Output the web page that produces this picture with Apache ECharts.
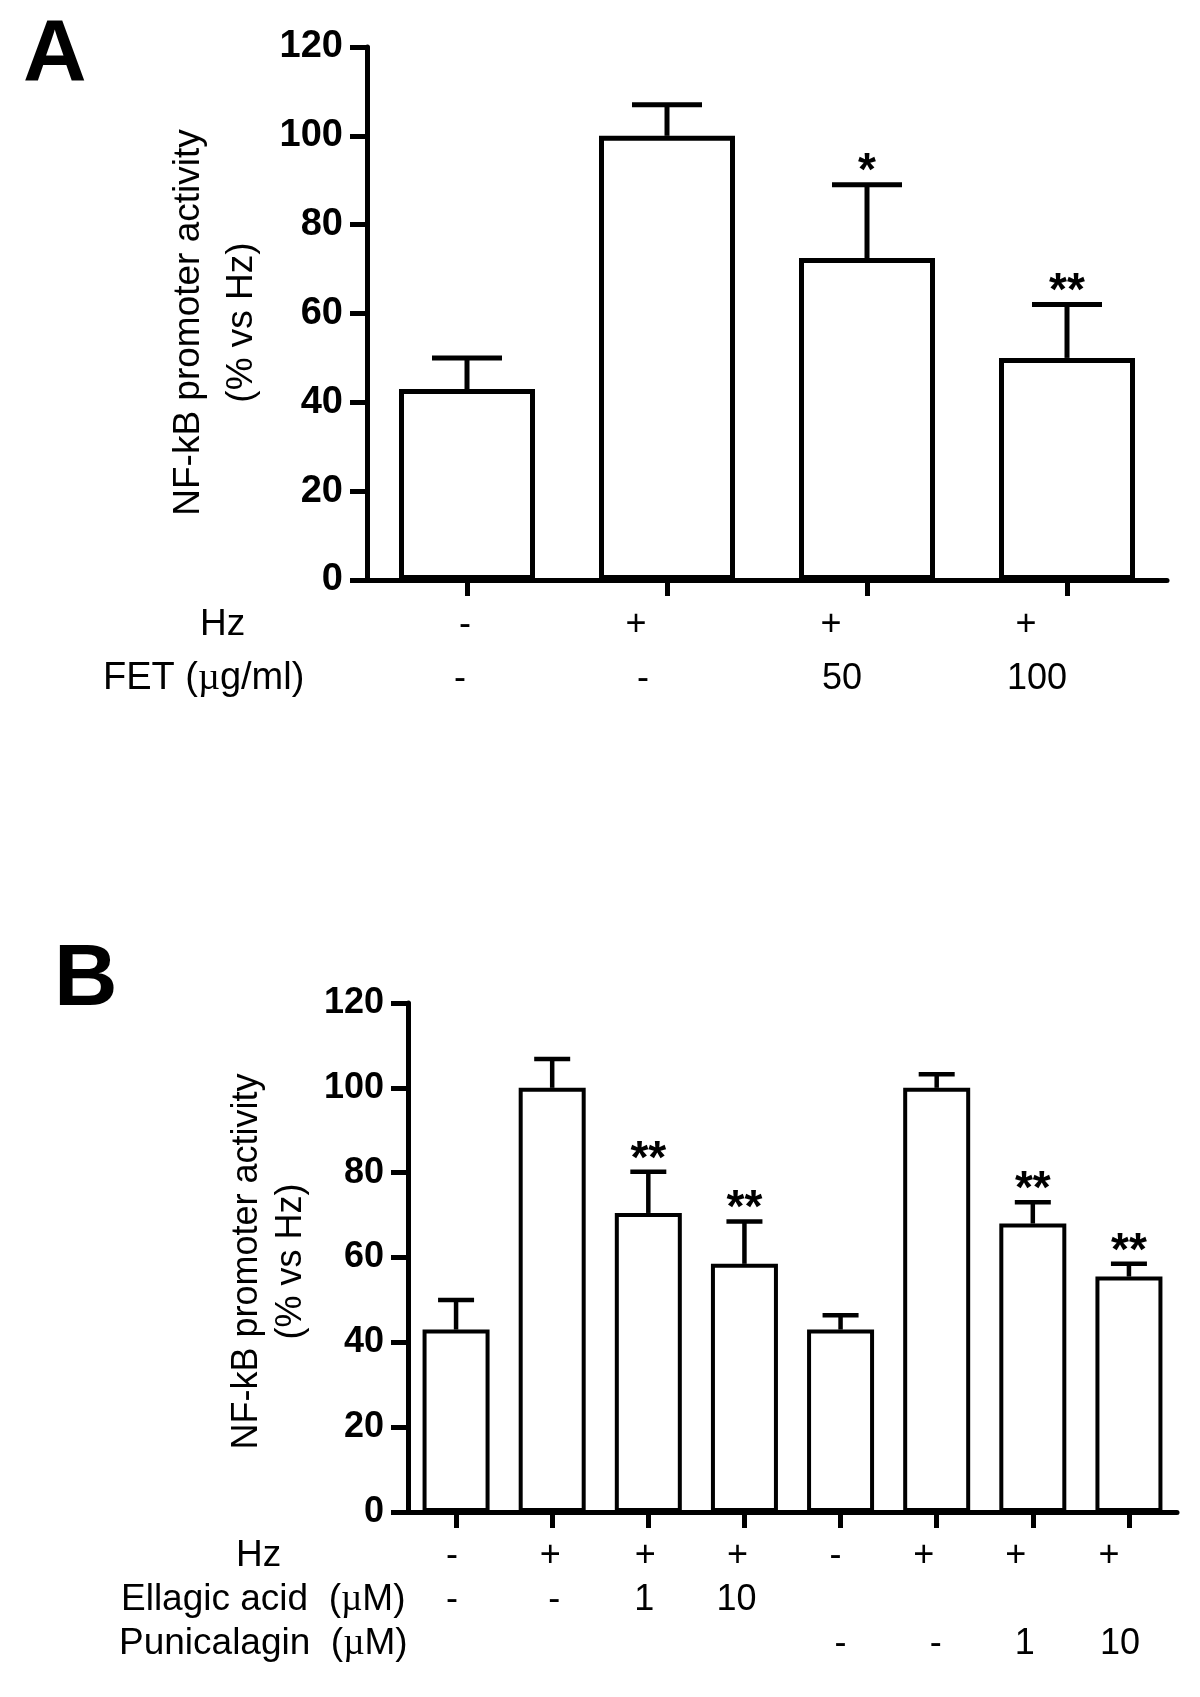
<!DOCTYPE html>
<html><head><meta charset="utf-8">
<script src="https://cdn.jsdelivr.net/npm/echarts@6/dist/echarts.min.js"></script>
<style>html,body{margin:0;padding:0;background:#fff}#c{width:1200px;height:1697px}</style>
</head><body><div id="c"></div>
<script>
// ---------- Panel A data ----------
const categoriesA = ['Control', 'Hz', 'Hz + FET 50', 'Hz + FET 100'];
const valuesA = [43, 100, 72.5, 50];
const errorsA = [7, 7, 16.5, 12];
const starsA = ['', '', '*', '**'];
const rowHzA = ['-', '+', '+', '+'];
const rowFetA = ['-', '-', '50', '100'];

// ---------- Panel B data ----------
const categoriesB = ['Control', 'Hz', 'Hz + EA 1', 'Hz + EA 10', 'Control', 'Hz', 'Hz + PC 1', 'Hz + PC 10'];
const valuesB = [43, 100, 70.5, 58.5, 43, 100, 68, 55.5];
const errorsB = [7, 6.8, 9.7, 10, 3.4, 3.2, 5, 3];
const starsB = ['', '', '**', '**', '', '', '**', '**'];
const rowHzB = ['-', '+', '+', '+', '-', '+', '+', '+'];
const rowEllagicB = ['-', '-', '1', '10', '', '', '', ''];
const rowPunicB = ['', '', '', '', '-', '-', '1', '10'];

const yMin = 0, yMax = 120, yStep = 20;
const yName = 'NF-kB promoter activity\n(% vs Hz)';

const F = "'Liberation Sans', Arial, Helvetica, sans-serif";

function makeErr(stars, capHalf, lw) {
  return function (params, api) {
    const idx = api.value(0), v = api.value(1), e = api.value(2);
    const base = api.coord([idx, v]);
    const top = api.coord([idx, v + e]);
    const children = [
      { type: 'line', shape: { x1: base[0], y1: base[1], x2: top[0], y2: top[1] }, style: { stroke: '#000', lineWidth: lw } },
      { type: 'line', shape: { x1: top[0] - capHalf, y1: top[1], x2: top[0] + capHalf, y2: top[1] }, style: { stroke: '#000', lineWidth: lw } }
    ];
    const s = stars[params.dataIndex];
    if (s) children.push({ type: 'text', x: top[0], y: top[1] - 12,
      style: { text: s, align: 'center', verticalAlign: 'middle', fontSize: 46, fontWeight: 'bold', fontFamily: F, fill: '#000' } });
    return { type: 'group', children };
  };
}

function yAxisCfg(gridIndex, lw, fs, gap, lh, nfs, pad) {
  return {
    type: 'value', gridIndex, min: yMin, max: yMax, interval: yStep,
    name: yName, nameLocation: 'middle', nameGap: gap, nameRotate: 90,
    nameTextStyle: { fontFamily: F, fontSize: nfs, lineHeight: lh, color: '#000', padding: pad },
    axisLine: { show: true, lineStyle: { color: '#000', width: lw } },
    axisTick: { show: true, length: 17, lineStyle: { color: '#000', width: lw } },
    axisLabel: { margin: 24, fontFamily: F, fontSize: fs, fontWeight: 'bold', color: '#000' },
    splitLine: { show: false }
  };
}
function xAxisCfg(gridIndex, cats, lw) {
  return {
    type: 'category', gridIndex, data: cats, boundaryGap: true,
    axisLine: { show: true, onZero: false, lineStyle: { color: '#000', width: lw } },
    axisTick: { show: true, alignWithLabel: true, interval: 0, length: 16, lineStyle: { color: '#000', width: lw } },
    axisLabel: { show: false }
  };
}

const chart = echarts.init(document.getElementById('c'), null, { renderer: 'canvas' });
chart.setOption({
  backgroundColor: '#fff',
  animation: false,
  grid: [
    { left: 367, top: 47, width: 800, height: 533 },
    { left: 408, top: 1003, width: 769, height: 509 }
  ],
  xAxis: [xAxisCfg(0, categoriesA, 5), xAxisCfg(1, categoriesB, 5)],
  yAxis: [yAxisCfg(0, 5, 38, 77, 53, 37, [0, 18, 0, 0]), yAxisCfg(1, 5, 36, 81, 44, 36, [0, 8, 0, 0])],
  series: [
    { type: 'bar', xAxisIndex: 0, yAxisIndex: 0, data: valuesA, barWidth: 136,
      itemStyle: { color: '#fff', borderColor: '#000', borderWidth: 5 } },
    { type: 'custom', xAxisIndex: 0, yAxisIndex: 0, z: 5,
      renderItem: makeErr(starsA, 35, 5),
      data: valuesA.map((v, i) => [i, v, errorsA[i]]) },
    { type: 'bar', xAxisIndex: 1, yAxisIndex: 1, data: valuesB, barWidth: 67,
      itemStyle: { color: '#fff', borderColor: '#000', borderWidth: 4 } },
    { type: 'custom', xAxisIndex: 1, yAxisIndex: 1, z: 5,
      renderItem: makeErr(starsB, 18, 4.5),
      data: valuesB.map((v, i) => [i, v, errorsB[i]]) }
  ]
});

// ---------- treatment table under the axes ----------
const txt = (x, y, text, align, size) => ({
  type: 'text', x, y,
  style: { text, x: 0, y: 0, align: align || 'center', verticalAlign: 'middle', fontFamily: F,
    fontSize: size || 36, fill: '#000',
    rich: { mu: { fontFamily: "'Liberation Serif', 'Times New Roman', serif", fontSize: size || 36 } } }
});
const shiftHzA = [-2, -31, -36, -41], shiftFetA = [-7, -24, -25, -30];
const shiftHzB = [-4, -2, -3, -7, -5, -13, -17, -20];
const shiftEaB = [-4, 2, -4, -8, 0, 0, 0, 0];
const shiftPcB = [0, 0, 0, 0, 0, -1, -8, -9];

const g = [];
g.push({ type: 'text', left: 23, top: 12, style: { text: 'A', fontFamily: F, fontSize: 88, fontWeight: 'bold', fill: '#000' } });
g.push({ type: 'text', left: 54, top: 937, style: { text: 'B', fontFamily: F, fontSize: 88, fontWeight: 'bold', fill: '#000' } });
g.push(txt(200, 625, 'Hz', 'left', 37));
g.push(txt(103, 679, 'FET ({mu|\u00b5}g/ml)', 'left', 38));
rowHzA.forEach((t, i) => { const x = chart.convertToPixel({ xAxisIndex: 0 }, i); g.push(txt(x + shiftHzA[i], 625, t)); });
rowFetA.forEach((t, i) => { const x = chart.convertToPixel({ xAxisIndex: 0 }, i); g.push(txt(x + shiftFetA[i], 679, t)); });
g.push(txt(236, 1556, 'Hz', 'left', 37));
g.push(txt(121, 1600, 'Ellagic acid  ({mu|\u00b5}M)', 'left', 37));
g.push(txt(119, 1644, 'Punicalagin  ({mu|\u00b5}M)', 'left', 37));
rowHzB.forEach((t, i) => { const x = chart.convertToPixel({ xAxisIndex: 1 }, i); g.push(txt(x + shiftHzB[i], 1556, t)); });
rowEllagicB.forEach((t, i) => { if (!t) return; const x = chart.convertToPixel({ xAxisIndex: 1 }, i); g.push(txt(x + shiftEaB[i], 1600, t)); });
rowPunicB.forEach((t, i) => { if (!t) return; const x = chart.convertToPixel({ xAxisIndex: 1 }, i); g.push(txt(x + shiftPcB[i], 1644, t)); });
chart.setOption({ graphic: g });
</script>
</body></html>
